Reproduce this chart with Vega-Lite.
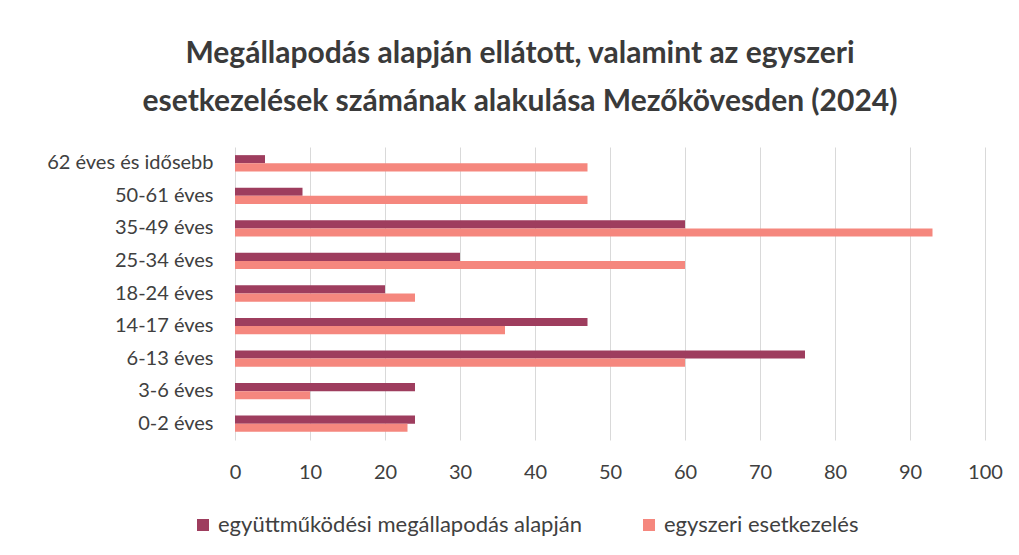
{
  "$schema": "https://vega.github.io/schema/vega-lite/v6.json",
  "autosize": {"type": "none"},
  "width": 750,
  "height": 293,
  "padding": {"left": 235, "top": 147, "right": 34, "bottom": 115},
  "background": "white",
  "config": {
    "font": "Lato",
    "view": {"stroke": null}
  },
  "title": {
    "text": ["Megállapodás alapján ellátott, valamint az egyszeri", "esetkezelések számának alakulása Mezőkövesden (2024)"],
    "font": "Lato",
    "fontSize": 30,
    "fontWeight": "bold",
    "color": "#3a3a3a",
    "lineHeight": 48,
    "anchor": "middle",
    "frame": "group",
    "dx": -90,
    "offset": 30
  },
  "data": {
    "values": [
      {"kor": "62 éves és idősebb", "sorozat": "együttműködési megállapodás alapján", "ertek": 4},
      {"kor": "62 éves és idősebb", "sorozat": "egyszeri esetkezelés", "ertek": 47},
      {"kor": "50-61 éves", "sorozat": "együttműködési megállapodás alapján", "ertek": 9},
      {"kor": "50-61 éves", "sorozat": "egyszeri esetkezelés", "ertek": 47},
      {"kor": "35-49 éves", "sorozat": "együttműködési megállapodás alapján", "ertek": 60},
      {"kor": "35-49 éves", "sorozat": "egyszeri esetkezelés", "ertek": 93},
      {"kor": "25-34 éves", "sorozat": "együttműködési megállapodás alapján", "ertek": 30},
      {"kor": "25-34 éves", "sorozat": "egyszeri esetkezelés", "ertek": 60},
      {"kor": "18-24 éves", "sorozat": "együttműködési megállapodás alapján", "ertek": 20},
      {"kor": "18-24 éves", "sorozat": "egyszeri esetkezelés", "ertek": 24},
      {"kor": "14-17 éves", "sorozat": "együttműködési megállapodás alapján", "ertek": 47},
      {"kor": "14-17 éves", "sorozat": "egyszeri esetkezelés", "ertek": 36},
      {"kor": "6-13 éves", "sorozat": "együttműködési megállapodás alapján", "ertek": 76},
      {"kor": "6-13 éves", "sorozat": "egyszeri esetkezelés", "ertek": 60},
      {"kor": "3-6 éves", "sorozat": "együttműködési megállapodás alapján", "ertek": 24},
      {"kor": "3-6 éves", "sorozat": "egyszeri esetkezelés", "ertek": 10},
      {"kor": "0-2 éves", "sorozat": "együttműködési megállapodás alapján", "ertek": 24},
      {"kor": "0-2 éves", "sorozat": "egyszeri esetkezelés", "ertek": 23}
    ]
  },
  "mark": {"type": "bar"},
  "encoding": {
    "y": {
      "field": "kor",
      "type": "nominal",
      "sort": ["62 éves és idősebb", "50-61 éves", "35-49 éves", "25-34 éves", "18-24 éves", "14-17 éves", "6-13 éves", "3-6 éves", "0-2 éves"],
      "scale": {"paddingInner": 0.5, "paddingOuter": 0.25},
      "axis": {
        "title": null,
        "domain": false,
        "ticks": false,
        "grid": false,
        "labelFont": "Lato",
        "labelFontSize": 20,
        "labelColor": "#404040",
        "labelPadding": 22,
        "labelLimit": 0
      }
    },
    "yOffset": {
      "field": "sorozat",
      "type": "nominal",
      "sort": ["együttműködési megállapodás alapján", "egyszeri esetkezelés"]
    },
    "x": {
      "field": "ertek",
      "type": "quantitative",
      "scale": {"domain": [0, 100], "nice": false},
      "axis": {
        "title": null,
        "domain": false,
        "ticks": false,
        "values": [0, 10, 20, 30, 40, 50, 60, 70, 80, 90, 100],
        "labelOverlap": false,
        "labelFlush": false,
        "grid": true,
        "gridColor": "#d9d9d9",
        "gridWidth": 1,
        "labelFont": "Lato",
        "labelFontSize": 20,
        "labelColor": "#404040",
        "labelPadding": 22
      }
    },
    "color": {
      "field": "sorozat",
      "type": "nominal",
      "sort": ["együttműködési megállapodás alapján", "egyszeri esetkezelés"],
      "scale": {"range": ["#9e3d5e", "#f5877e"]},
      "legend": {
        "title": null,
        "orient": "none",
        "direction": "horizontal",
        "legendX": -43,
        "legendY": 367,
        "symbolType": "square",
        "symbolSize": 144,
        "symbolStrokeWidth": 0,
        "labelFont": "Lato",
        "labelFontSize": 22,
        "labelColor": "#404040",
        "labelOffset": 4,
        "labelLimit": 0,
        "columnPadding": 56
      }
    }
  }
}
